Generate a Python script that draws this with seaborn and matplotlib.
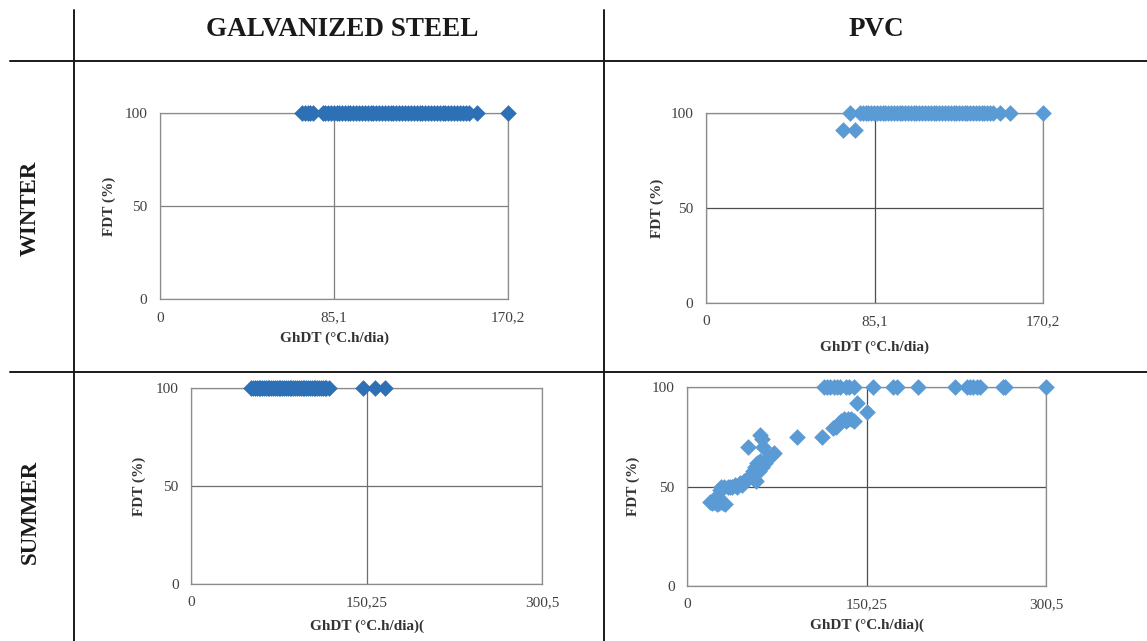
import numpy as np
import pandas as pd
import matplotlib
matplotlib.use("Agg")
import matplotlib.pyplot as plt
import seaborn as sns
from matplotlib.lines import Line2D

# ---- data ----
# winter, galvanized steel (all at FDT = 100)
gs_winter_x = [69.5, 71.0, 72.3, 73.6, 75.0, 79.5, 80.8, 82.1, 83.5, 85.0, 86.4, 87.6,
               89.0, 90.5, 91.8, 93.0, 94.6, 96.0, 97.3, 98.8, 100.2, 101.5, 103.0,
               104.4, 105.8, 107.0, 108.6, 110.0, 111.3, 112.8, 114.2, 115.5, 117.0,
               118.4, 119.8, 121.3, 122.6, 124.0, 125.5, 127.0, 128.2, 129.7, 131.0,
               132.6, 134.0, 135.4, 136.8, 138.3, 139.6, 141.0, 142.5, 144.0, 145.3,
               146.8, 148.2, 149.6, 151.0, 155.2, 170.2]
gs_winter_y = [100] * len(gs_winter_x)

# winter, PVC
pvc_winter_x = [69.3, 72.6, 75.2, 77.8, 79.2, 80.6, 82.0, 83.5, 85.0, 86.3, 87.8, 89.2,
                90.6, 92.0, 93.5, 95.0, 96.4, 97.8, 99.2, 100.7, 102.0, 103.5, 105.0,
                106.3, 107.8, 109.2, 110.6, 112.0, 113.5, 115.0, 116.3, 117.8, 119.2,
                120.6, 122.0, 123.5, 125.0, 126.4, 127.8, 129.2, 130.7, 132.0, 133.5,
                135.0, 136.4, 137.8, 139.3, 140.6, 142.0, 143.6, 145.0, 148.3, 153.4,
                170.2]
pvc_winter_y = [91.2, 100, 91.2] + [100] * (len(pvc_winter_x) - 3)

# summer, galvanized steel
gs_summer_x = [51.5, 53.0, 54.6, 56.2, 57.8, 59.3, 61.0, 62.5, 64.0, 65.6, 67.2, 68.8,
               70.3, 72.0, 73.5, 75.0, 76.6, 78.2, 79.8, 81.3, 83.0, 84.5, 86.0, 87.6,
               89.2, 90.8, 92.3, 94.0, 95.5, 97.0, 98.6, 100.2, 101.8, 103.3, 105.0,
               106.5, 108.0, 109.6, 111.2, 112.8, 114.3, 116.0, 118.0, 147.1, 157.1,
               165.7]
gs_summer_y = [100] * len(gs_summer_x)

# summer, PVC
pvc_summer_x = [19.0, 21.0, 23.0, 25.0, 27.0, 30.0, 32.0, 25.5, 27.5, 28.5, 31.0, 34.0,
                36.0, 38.0, 40.0, 42.0, 44.0, 46.0, 48.0, 50.0, 52.0, 54.0, 56.0, 51.3,
                58.0, 55.0, 57.0, 59.0, 61.0, 60.0, 63.0, 65.0, 67.0, 69.0, 71.0, 72.5,
                61.0, 62.5, 63.9, 91.8, 112.7, 122.5, 125.0, 127.0, 129.0, 131.0, 133.0,
                135.0, 137.0, 140.0, 142.0, 150.4, 114.5, 117.0, 120.0, 123.0, 125.5,
                128.0, 133.0, 136.0, 139.5, 155.5, 172.7, 175.5, 193.6, 224.3, 234.0,
                237.0, 239.6, 242.4, 245.2, 264.7, 266.1, 300.5]
pvc_summer_y = [42.0, 41.5, 42.0, 41.0, 41.5, 41.5, 41.0, 45.0, 48.0, 50.0, 50.0, 50.0,
                49.5, 50.0, 51.0, 50.0, 52.0, 51.0, 53.0, 54.0, 55.0, 55.0, 54.0, 70.0,
                53.0, 58.0, 60.0, 62.0, 63.0, 58.0, 60.0, 62.0, 64.0, 65.0, 66.0, 67.0,
                76.0, 74.0, 70.0, 75.0, 75.0, 79.2, 80.0, 82.0, 83.0, 84.0, 83.0,
                84.0, 84.0, 83.0, 91.8, 87.6, 100, 100, 100, 100, 100,
                100, 100, 100, 100, 100, 100, 100, 100, 100, 100,
                100, 100, 100, 100, 100, 100, 100]

col_titles = ["GALVANIZED STEEL", "PVC"]
row_titles = ["WINTER", "SUMMER"]
winter_ticks = [0, 85.1, 170.2]
winter_labels = ["0", "85,1", "170,2"]
summer_ticks = [0, 150.25, 300.5]
summer_labels = ["0", "150,25", "300,5"]
y_ticks = [0, 50, 100]

DARK_BLUE = "#2E70B6"
LIGHT_BLUE = "#5B9BD5"

sns.set_style("white")
plt.rcParams["font.family"] = ["Liberation Serif", "DejaVu Serif"]

W, H = 1147, 641
fig = plt.figure(figsize=(W / 100, H / 100), dpi=100)


def px_axes(left, top, right, bottom):
    return fig.add_axes([left / W, 1 - bottom / H, (right - left) / W, (bottom - top) / H])


def panel(ax, x, y, color, ticks, labels, xlabel, xlab_y, ylab_x, grid_col):
    df = pd.DataFrame({"GhDT": x, "FDT": y})
    sns.scatterplot(data=df, x="GhDT", y="FDT", ax=ax, marker="D", s=72,
                    color=color, linewidth=0, clip_on=False, zorder=5)
    ax.set_xlim(ticks[0], ticks[-1])
    ax.set_ylim(0, 100)
    ax.set_xticks(ticks)
    ax.set_xticklabels(labels)
    ax.set_yticks(y_ticks)
    ax.tick_params(length=0, pad=9, labelsize=11, labelcolor="#404040")
    ax.grid(True, color=grid_col, linewidth=0.9)
    for s in ax.spines.values():
        s.set_color("#8c8c8c")
        s.set_linewidth(0.9)
    ax.set_xlabel(xlabel, fontsize=11, fontweight="bold", color="#333333")
    ax.set_ylabel("FDT (%)", fontsize=11, fontweight="bold", color="#333333")
    ax.xaxis.set_label_coords(0.5, xlab_y)
    ax.yaxis.set_label_coords(ylab_x, 0.5)


ax1 = px_axes(160, 113, 508, 299)
panel(ax1, gs_winter_x, gs_winter_y, DARK_BLUE, winter_ticks, winter_labels,
      "GhDT (°C.h/dia)", -0.175, -0.125, "#7f7f7f")
ax2 = px_axes(706, 113, 1043, 303)
panel(ax2, pvc_winter_x, pvc_winter_y, LIGHT_BLUE, winter_ticks, winter_labels,
      "GhDT (°C.h/dia)", -0.195, -0.126, "#4d4d4d")
ax3 = px_axes(191, 388, 542, 584)
panel(ax3, gs_summer_x, gs_summer_y, DARK_BLUE, summer_ticks, summer_labels,
      "GhDT (°C.h/dia)(", -0.18, -0.128, "#6e6e6e")
ax4 = px_axes(687, 387, 1046, 586)
panel(ax4, pvc_summer_x, pvc_summer_y, LIGHT_BLUE, summer_ticks, summer_labels,
      "GhDT (°C.h/dia)(", -0.165, -0.132, "#4d4d4d")

# table lines
def fig_line(x0, y0, x1, y1):
    fig.add_artist(Line2D([x0 / W, x1 / W], [1 - y0 / H, 1 - y1 / H],
                          color="#1a1a1a", linewidth=1.4, transform=fig.transFigure))

fig_line(74, 10, 74, H)
fig_line(604, 10, 604, H)
fig_line(10, 61, W, 61)
fig_line(10, 372, W, 372)

# header texts
head = dict(fontweight="bold", color="#1a1a1a", va="center", ha="center")
fig.text(342 / W, 1 - 30 / H, col_titles[0], fontsize=19.5, **head)
fig.text(876 / W, 1 - 30 / H, col_titles[1], fontsize=19.5, **head)
fig.text(30 / W, 1 - 208 / H, row_titles[0], rotation=90, fontsize=16.5, **head)
fig.text(30 / W, 1 - 512 / H, row_titles[1], rotation=90, fontsize=16.5, **head)

fig.savefig("out.png", dpi=100)
